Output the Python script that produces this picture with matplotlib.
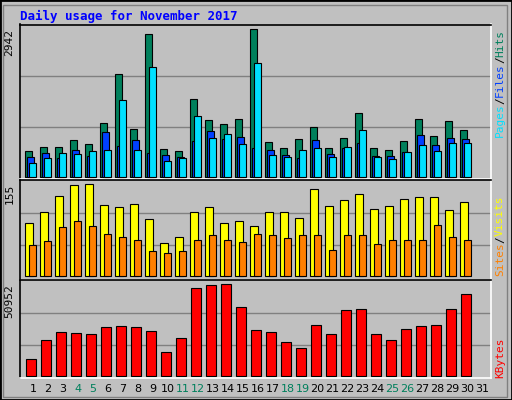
import matplotlib
matplotlib.use("Agg")
import matplotlib.pyplot as plt
import numpy as np
from matplotlib.patches import Rectangle

days = list(range(1, 32))
hits = [513,592,592,726,646,1065,2043,945,2849,546,506,1544,1125,1045,1145,2942,686,566,745,985,566,765,1265,566,526,706,1145,805,1105,925]
files = [386,466,373,526,406,885,612,726,466,426,386,706,905,745,785,566,526,426,373,726,446,566,666,406,406,486,825,626,765,745]
pages = [266,366,466,446,506,526,1524,526,2183,306,366,1205,765,845,646,2263,426,386,526,566,386,586,925,386,346,486,626,506,666,666]
visits = [89,108,136,153,155,120,116,121,96,56,67,108,116,89,93,84,108,108,99,147,118,128,138,113,118,131,133,133,111,126]
sites = [52,59,83,93,84,72,67,61,42,39,42,62,69,61,57,72,69,64,69,69,44,69,69,54,61,62,61,86,66,62]
kbytes = [9111,19711,24174,23616,23058,26964,27522,26964,24732,13017,20827,48720,50394,50952,38121,25290,24174,18596,15248,28080,23058,36447,37005,23058,19711,25848,27522,28080,37005,45373]
weekends = [4, 5, 11, 12, 18, 19, 25, 26]

W, H = 512, 400
fig = plt.figure(figsize=(W/100, H/100), dpi=100)
fig.patch.set_facecolor('#C0C0C0')
fig.patches.append(Rectangle((0, 0), 1, 1, transform=fig.transFigure, fill=False,
                             edgecolor='black', linewidth=2))
fig.patches.append(Rectangle((3/W, 3/H), 1-8/W, 1-8/H, transform=fig.transFigure, fill=False,
                             edgecolor='#808080', linewidth=1))

PX = 15.0
x = np.array(days[:30], dtype=float)
mono = 'DejaVu Sans Mono'

def make_ax(top, bot, base_px, max_px, vmax):
    ax = fig.add_axes([20/W, (H-bot)/H, 471/W, (bot-top)/H])
    ax.set_facecolor('#C0C0C0')
    hpx = bot - top
    upp = vmax / max_px
    ax.set_ylim(-base_px*upp, (hpx-base_px)*upp)
    ax.set_xlim(1 - 13/PX, 31 + 8.5/PX)
    for f in (0.335, 0.684):
        ax.axhline(vmax*f, color='#808080', lw=1, zorder=0)
    ax.set_xticks([]); ax.set_yticks([])
    ax.spines['top'].set_color('black'); ax.spines['left'].set_color('black')
    ax.spines['bottom'].set_color('white'); ax.spines['right'].set_color('white')
    for s in ax.spines.values():
        s.set_linewidth(1.2)
    ax.text(-0.012, 1 - 4/hpx, f"{int(vmax)}", transform=ax.transAxes, rotation=90,
            ha='right', va='top', fontsize=8, family=mono)
    return ax

def bars(ax, off_px, w_px, vals, color, z):
    ax.bar(x + off_px/PX, vals, width=w_px/PX, color=color, edgecolor='black', linewidth=0.8, zorder=z)

ax1 = make_ax(24.5, 179, 2.3, 147.3, max(hits))
bars(ax1, -4.5, 7, hits, '#00805C', 2)
bars(ax1, -2.5, 7, files, '#0040FF', 3)
bars(ax1, -0.5, 7, pages, '#00E0FF', 4)

ax2 = make_ax(180, 280, 3.7, 92, max(visits))
bars(ax2, -4, 8, visits, '#FFFF00', 2)
bars(ax2, -0.5, 7, sites, '#FF8000', 3)

ax3 = make_ax(280, 378, 2.3, 91.3, max(kbytes))
bars(ax3, -2, 10, kbytes, '#FF0000', 2)

FS = 8
STEP = FS * 100 / 72 * 0.602
def rlabel(y_px, parts):
    yy = y_px
    for txt, col in parts:
        fig.text(500/W, 1 - yy/H, txt, rotation=90, color=col, fontsize=FS,
                 family=mono, ha='center', va='bottom')
        yy -= len(txt) * STEP
rlabel(137, [("Pages", '#00E0FF'), ("/", '#000000'), ("Files", '#0040FF'), ("/", '#000000'), ("Hits", '#00805C')])
rlabel(276, [("Sites", '#FF8000'), ("/", '#000000'), ("Visits", '#FFFF00')])
rlabel(378, [("KBytes", '#FF0000')])

fig.text(20/W, 1 - 16/H, "Daily usage for November 2017", color='#0000FF', fontsize=9,
         fontweight='bold', family=mono, va='center', ha='left')

for d in days:
    xc = 20 + 13 + (d - 1) * 14.97
    fig.text(xc/W, 1 - 389/H, str(d), ha='center', va='center', fontsize=8,
             color='#00805C' if d in weekends else 'black')

fig.savefig('out.png', dpi=100, facecolor=fig.get_facecolor())
